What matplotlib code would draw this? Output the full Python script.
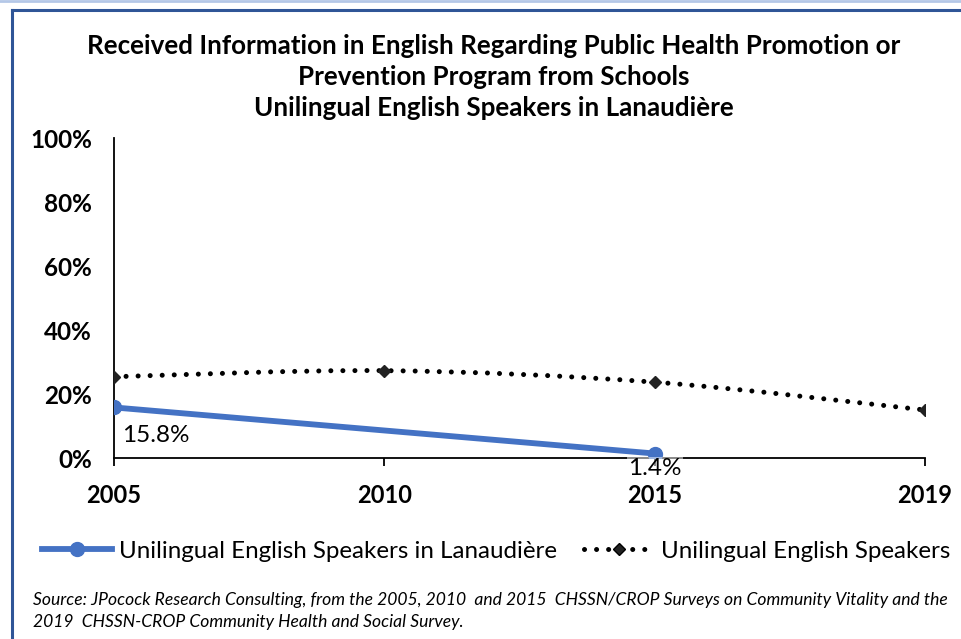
import numpy as np
import matplotlib.pyplot as plt
from matplotlib.path import Path
from matplotlib.patches import PathPatch
from matplotlib.lines import Line2D

years = ['2005', '2010', '2015', '2019']
lanaudiere = [15.8, np.nan, 1.4, np.nan]
lanaudiere_labels = ['15.8%', '', '1.4%', '']
unilingual = [25.4, 27.3, 23.7, 15.0]

title = ('Received Information in English Regarding Public Health Promotion or\n'
         'Prevention Program from Schools\n'
         'Unilingual English Speakers in Lanaudière')
source = ('Source: JPocock Research Consulting, from the 2005, 2010  and 2015  CHSSN/CROP Surveys on Community Vitality and the\n'
          '2019  CHSSN-CROP Community Health and Social Survey.')

plt.rcParams['font.family'] = ['Lato', 'DejaVu Sans']

blue = '#4472C4'
W, H = 961, 639
fig = plt.figure(figsize=(W / 100, H / 100), dpi=100)

# chart border (Excel-style frame)
fig.add_artist(Line2D([0, 1], [1 - 1 / H, 1 - 1 / H], color='#B4C7E7', lw=2))
fig.add_artist(Line2D([12 / W, 1], [1 - 10 / H, 1 - 10 / H], color='#2F5597', lw=2.2))
fig.add_artist(Line2D([12 / W, 12 / W], [0, 1 - 10 / H], color='#2F5597', lw=2.2))

ax = fig.add_axes([114 / W, 1 - 458 / H, (925 - 114) / W, 320 / H])
x = np.arange(len(years))

# smoothed dotted series via cubic Bezier (Catmull-Rom control points)
pts = np.column_stack([x, unilingual])
ext = np.vstack([pts[0], pts, pts[-1]])
verts = [tuple(pts[0])]
codes = [Path.MOVETO]
for i in range(len(pts) - 1):
    p0, p1, p2, p3 = ext[i], ext[i + 1], ext[i + 2], ext[i + 3]
    c1 = p1 + (p2 - p0) / 6
    c2 = p2 - (p3 - p1) / 6
    verts += [tuple(c1), tuple(c2), tuple(p2)]
    codes += [Path.CURVE4] * 3
patch = PathPatch(Path(verts, codes), fill=False, edgecolor='black', lw=3.6,
                  linestyle=(0, (0.01, 2.4)), capstyle='round', zorder=3)
ax.add_patch(patch)
ax.plot(x, unilingual, linestyle='none', marker='D', color='#222222', markersize=6.5, zorder=4)

# blue series, connected across the missing 2010 point
lx = x[~np.isnan(lanaudiere)]
ly = np.array(lanaudiere)[~np.isnan(lanaudiere)]
ax.plot(lx, ly, color=blue, lw=4.2, marker='o', markersize=10, zorder=5, solid_capstyle='round')

ax.annotate(lanaudiere_labels[0], (x[0], lanaudiere[0]), xytext=(6, -20), textcoords='offset points',
            ha='left', va='center', fontsize=17.5)
ax.annotate(lanaudiere_labels[2], (x[2], lanaudiere[2]), xytext=(0, -11), textcoords='offset points',
            ha='center', va='center', fontsize=17.5, zorder=6,
            bbox=dict(boxstyle='square,pad=0.05', fc='white', ec='none', alpha=0.5))

ax.set_xlim(0, 3)
ax.set_ylim(0, 100)
ax.set_xticks(x)
ax.set_xticklabels(years, fontsize=17, fontweight='bold')
ax.set_yticks(np.arange(0, 101, 20))
ax.set_yticklabels([f'{v}%' for v in range(0, 101, 20)], fontsize=17.5, fontweight='bold')
ax.tick_params(axis='x', length=6, width=1.3, pad=13, direction='out')
ax.tick_params(axis='y', length=0, pad=16)
for s in ['top', 'right']:
    ax.spines[s].set_visible(False)
for s in ['left', 'bottom']:
    ax.spines[s].set_linewidth(1.3)

fig.text(494 / W, 1 - 77 / H, title, ha='center', va='center', fontsize=18.7, fontweight='bold',
         linespacing=1.33)

handles = [Line2D([], [], color=blue, lw=4.2, marker='o', markersize=10),
           Line2D([], [], color='black', lw=3.6, linestyle=(0, (0.01, 2.4)), dash_capstyle='round',
                  marker='D', markersize=6.5, markerfacecolor='#222222')]
fig.legend(handles, ['Unilingual English Speakers in Lanaudière', 'Unilingual English Speakers'],
           loc='center', bbox_to_anchor=(496 / W, 1 - 551 / H), ncol=2, frameon=False,
           fontsize=17.4, handlelength=2.9, handletextpad=0.3, columnspacing=1.1)

fig.text(33 / W, 1 - 611 / H, source, ha='left', va='center', fontsize=12.6, style='italic',
         linespacing=1.45)

fig.savefig('out.png', dpi=100)
